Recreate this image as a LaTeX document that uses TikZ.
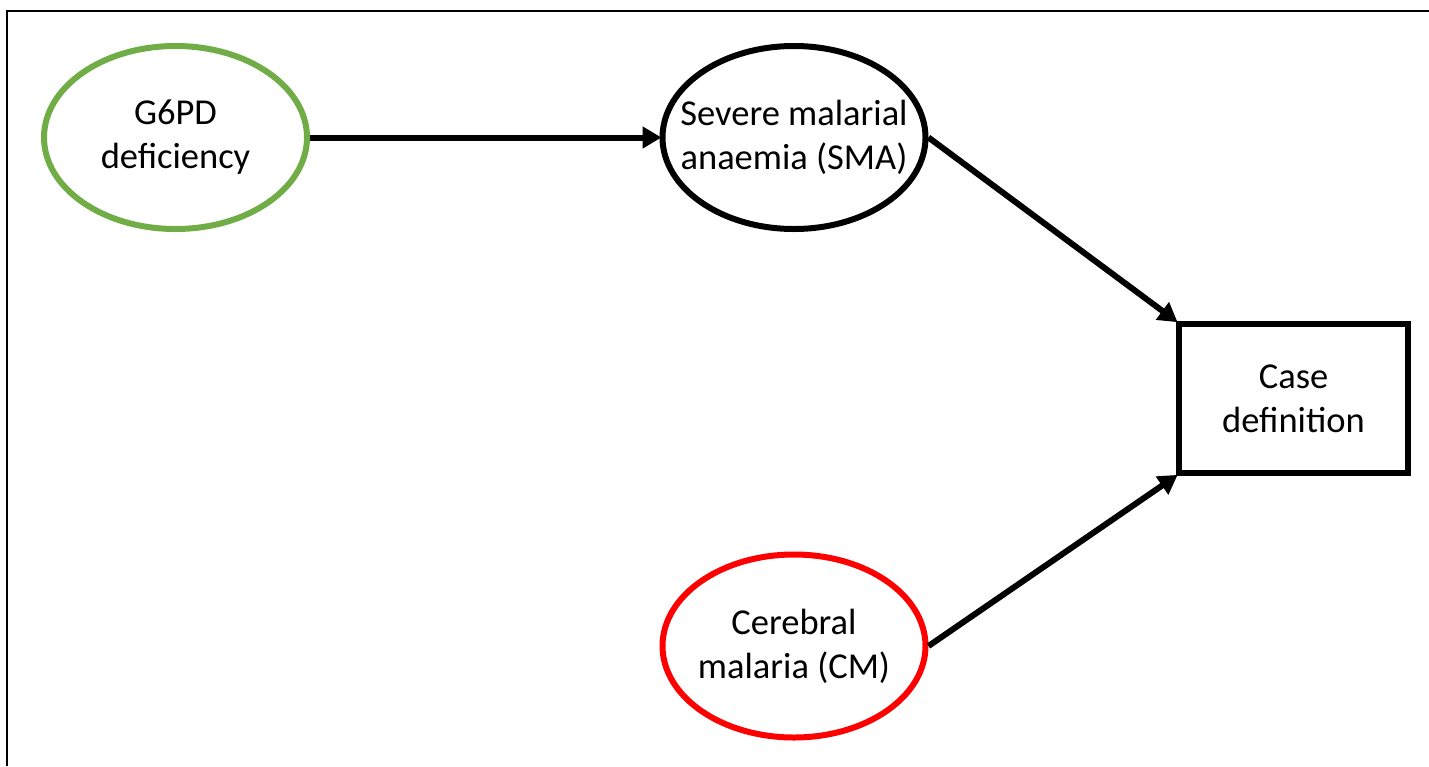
\documentclass[tikz,border=0pt]{standalone}
\usepackage{fontspec}
\setmainfont{Carlito}
\usetikzlibrary{shapes.geometric,arrows.meta}
\definecolor{offgreen}{RGB}{112,173,71}
\definecolor{offred}{RGB}{255,0,0}
\tikzset{
  oval/.style={ellipse, draw, line width=6pt, minimum width=263pt, minimum height=183pt, inner xsep=-40pt, inner ysep=0pt, align=center, font=\fontsize{36.5}{44}\selectfont},
  boxnode/.style={rectangle, draw, line width=6pt, minimum width=229pt, minimum height=149pt, inner sep=0pt, align=center, font=\fontsize{36.5}{44}\selectfont},
  conn/.style={line width=6pt, -{Triangle[length=19pt,width=21pt]}, shorten >=-2pt}
}
\begin{document}
\begin{tikzpicture}[x=1pt,y=-1pt]
\useasboundingbox (0,0) rectangle (1429,766);
\draw[line width=2pt] (7,766) -- (7,11) -- (1429,11);
\node[oval, draw=offgreen] (g) at (175.5,137.5) {G6PD\\deficiency};
\node[oval] (s) at (794,137.5) {Severe malarial\\anaemia (SMA)};
\node[oval, draw=offred] (c) at (794,646) {Cerebral\\malaria (CM)};
\node[boxnode] (d) at (1293.5,398.5) {Case\\definition};
\draw[conn] (g.east) -- (s.west);
\draw[conn] (s.east) -- (d.north west);
\draw[conn] (c.east) -- (d.south west);
\end{tikzpicture}
\end{document}
